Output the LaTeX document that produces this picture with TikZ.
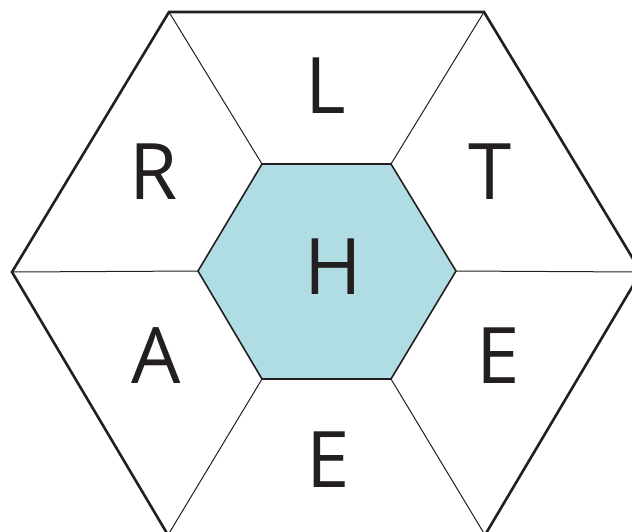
\documentclass[tikz,border=0pt]{standalone}
\usepackage{fontspec}
\setmainfont{Open Sans}
\definecolor{hexfill}{HTML}{B0DDE3}
\definecolor{ink}{HTML}{231F20}
\begin{document}
\begin{tikzpicture}[x=1pt,y=-1pt,
  outer/.style={draw=ink,line width=2.6pt,line join=miter},
  inner/.style={draw=ink,fill=hexfill,line width=1.6pt},
  spoke/.style={draw=ink,line width=1pt},
  letter/.style={inner sep=0pt,text=ink,font=\fontsize{78}{78}\selectfont}]
\useasboundingbox (0,0) rectangle (632,531);
\clip (0,0) rectangle (632,531);
% outer vertices
\coordinate (o1) at (12,272);
\coordinate (o2) at (169,12);
\coordinate (o3) at (484,12);
\coordinate (o4) at (641,272);
\coordinate (o5) at (485,535);
\coordinate (o6) at (168,535);
% inner vertices
\coordinate (i1) at (198,271);
\coordinate (i2) at (262,164);
\coordinate (i3) at (391,164);
\coordinate (i4) at (456,271);
\coordinate (i5) at (391,379);
\coordinate (i6) at (262,379);
\foreach \k in {1,...,6} \draw[spoke] (o\k) -- (i\k);
\draw[inner] (i1) -- (i2) -- (i3) -- (i4) -- (i5) -- (i6) -- cycle;
\draw[outer] (o1) -- (o2) -- (o3) -- (o4) -- (o5) -- (o6) -- cycle;
\node[letter] (L) at (326,86) {L};
\node[letter] (R) at (154,172) {R};
\node[letter] (T) at (490,172) {T};
\node[letter] (H) at (333,267) {H};
\node[letter] (A) at (156,356) {A};
\node[letter] (E1) at (498,356) {E};
\node[letter] (E2) at (328,460) {E};
\end{tikzpicture}
\end{document}
